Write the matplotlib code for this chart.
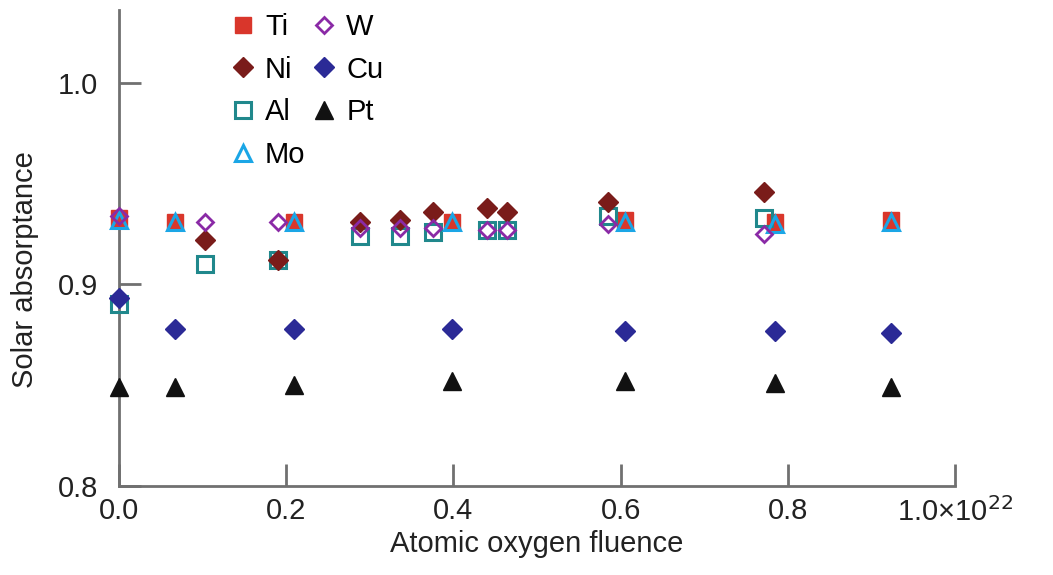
import matplotlib
matplotlib.use("Agg")
import matplotlib.pyplot as plt

plt.rcParams['font.family'] = ['Liberation Sans', 'DejaVu Sans']

# fluence (x 1e22) and solar absorptance
x_main = [0.0, 0.067, 0.209, 0.398, 0.605, 0.785, 0.924]
ti = [0.933, 0.931, 0.931, 0.931, 0.932, 0.931, 0.932]
mo = [0.932, 0.931, 0.931, 0.931, 0.931, 0.930, 0.931]
cu = [0.893, 0.878, 0.878, 0.878, 0.877, 0.877, 0.876]
pt = [0.849, 0.849, 0.850, 0.852, 0.852, 0.851, 0.849]

x_ni = [0.103, 0.190, 0.288, 0.336, 0.376, 0.440, 0.464, 0.585, 0.772]
ni = [0.922, 0.912, 0.931, 0.932, 0.936, 0.938, 0.936, 0.941, 0.946]

x_w = [0.0, 0.103, 0.190, 0.288, 0.336, 0.376, 0.440, 0.464, 0.585, 0.772]
w = [0.934, 0.931, 0.931, 0.928, 0.928, 0.928, 0.927, 0.927, 0.930, 0.925]
al = [0.890, 0.910, 0.912, 0.924, 0.924, 0.926, 0.927, 0.927, 0.934, 0.933]

xticks = [0.0, 0.2, 0.4, 0.6, 0.8, 1.0]
xticklabels = ['0.0', '0.2', '0.4', '0.6', '0.8', '1.0×10$^{22}$']
yticks = [0.8, 0.9, 1.0]

fig = plt.figure(figsize=(10.53, 5.75), dpi=100)
ax = fig.add_axes([119 / 1053, 89 / 575, 836 / 1053, 476 / 575])

kw = dict(linestyle='none', clip_on=False)
ax.plot(x_main, ti, marker='s', ms=12, color='#d9362b', label='Ti', zorder=3, **kw)
ax.plot(x_ni, ni, marker='D', ms=10, color='#7a1c1a', label='Ni', zorder=3.2, **kw)
ax.plot(x_w, al, marker='s', ms=12, mfc='none', mec='#20888c', mew=2.2, label='Al', zorder=3.1, **kw)
ax.plot(x_main, mo, marker='^', ms=12, mfc='none', mec='#1ba6e6', mew=2.2, label='Mo', zorder=3.3, **kw)
ax.plot(x_w, w, marker='D', ms=8.5, mfc='none', mec='#8a2aa6', mew=2.0, label='W', zorder=3.4, **kw)
ax.plot(x_main, cu, marker='D', ms=10, color='#2b2a96', label='Cu', zorder=3.5, **kw)
ax.plot(x_main, pt, marker='^', ms=13.5, color='#111111', label='Pt', zorder=3.6, **kw)

ax.set_xlim(0, 1.0)
ax.set_ylim(0.8, 1.036)
ax.set_xticks(xticks)
ax.set_xticklabels(xticklabels)
ax.set_yticks(yticks)
ax.set_yticklabels(['0.8', '0.9', '1.0'])

for s in ['top', 'right']:
    ax.spines[s].set_visible(False)
for s in ['left', 'bottom']:
    ax.spines[s].set_color('#707070')
    ax.spines[s].set_linewidth(2)
ax.tick_params(direction='in', length=16, width=2, color='#707070',
               labelsize=21, labelcolor='#222222')
ax.tick_params(axis='x', pad=8)
ax.tick_params(axis='y', pad=15)

ax.set_xlabel('Atomic oxygen fluence', fontsize=21, color='#222222')
ax.set_ylabel('Solar absorptance', fontsize=21, color='#222222')
ax.xaxis.set_label_coords(0.5, -0.092)
ax.yaxis.set_label_coords(-0.096, 0.454)

ax.legend(ncol=2, loc='upper left', bbox_to_anchor=(227 / 1053, 1 - 13 / 575),
          bbox_transform=fig.transFigure, frameon=False, fontsize=21,
          borderpad=0, borderaxespad=0, handlelength=1.1, handletextpad=0.2,
          columnspacing=0.1, labelspacing=0.5, numpoints=1)

fig.savefig('out.png', dpi=100)
